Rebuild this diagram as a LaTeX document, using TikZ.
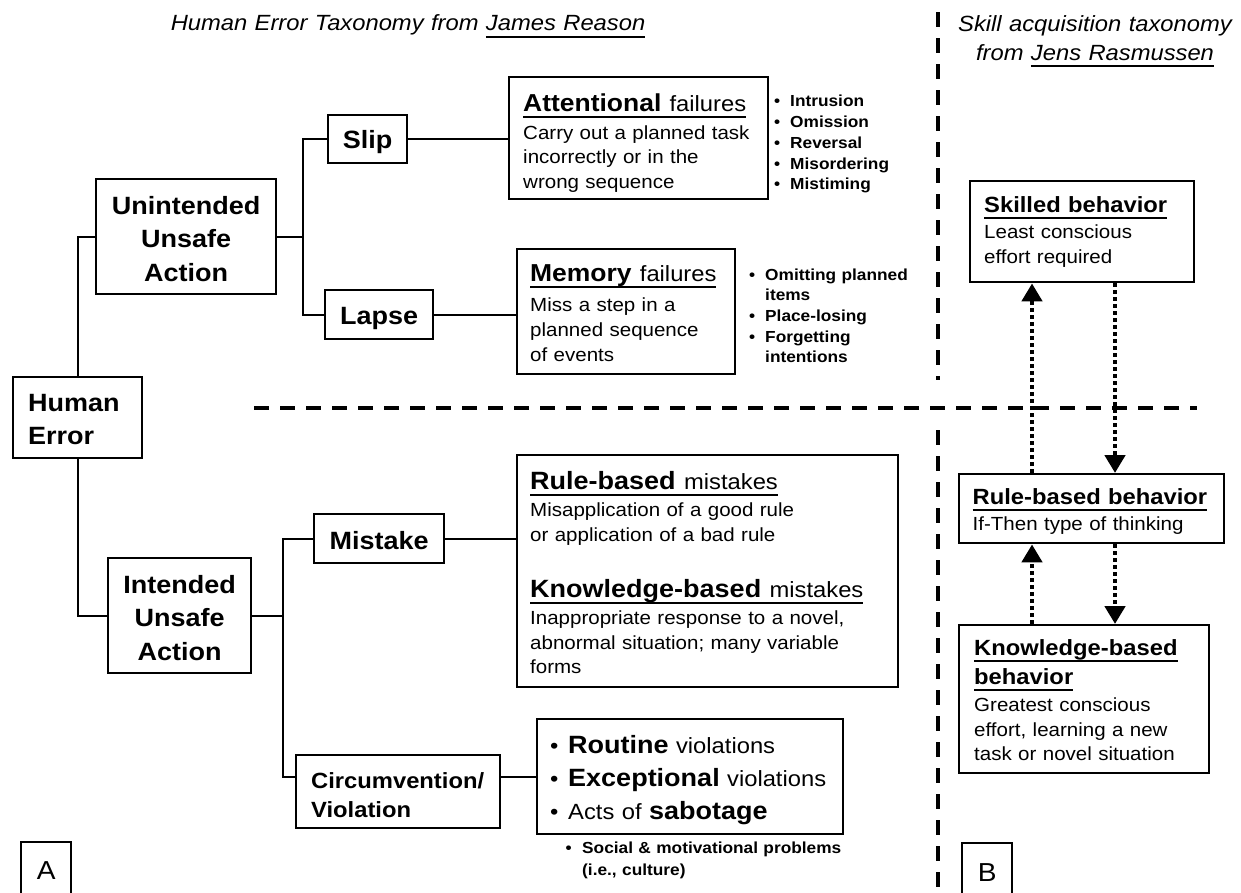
\documentclass[tikz,border=0pt]{standalone}
\usepackage{fontspec}
\setmainfont{Liberation Sans}[FakeStretch=1.08,WordSpace=1.12]
\usetikzlibrary{arrows.meta}
\hyphenpenalty=10000
\exhyphenpenalty=10000
\newcommand{\fsz}[2]{\fontsize{#1}{#2}\selectfont}
\newcommand{\myul}[2][2.3pt]{\leavevmode\setbox0=\hbox{#2}\rlap{\rule[-6.8pt]{\wd0}{#1}}\box0}
\newcommand{\bul}[1]{\makebox[#1][l]{\textbullet}}
\begin{document}
\begin{tikzpicture}[x=1pt,y=-1pt,
  box/.style={draw, line width=2.4pt, inner ysep=0pt, anchor=north west},
  conn/.style={line width=1.8pt},
  dashln/.style={line width=4.5pt, dash pattern=on 15pt off 11pt},
  dotarrow/.style={line width=4.5pt, dash pattern=on 4pt off 3pt, -{Triangle[width=20pt,length=18pt]}},
  lbl/.style={font={\fsz{25}{33.5}\bfseries}, align=flush center},
  free/.style={inner sep=0pt, anchor=base west, align=flush left}
]
\useasboundingbox (0,0) rectangle (1241,892);

% titles
\node[font={\fsz{22}{28}\itshape}, anchor=base, inner sep=0pt] (t1) at (408,30.7) {Human Error Taxonomy from \myul[1.8pt]{James Reason}};
\node[font={\fsz{22}{28.3}\itshape}, anchor=base, inner sep=0pt, text width=300pt, align=flush center] (t2) at (1095,31.7) {Skill acquisition taxonomy\\from \myul[1.8pt]{Jens Rasmussen}};

% dashed separators
\coordinate (vtop) at (938,12);
\coordinate (vmida) at (938,380);
\coordinate (vmidb) at (938,430);
\coordinate (vbot) at (938,905);
\coordinate (hl) at (254,408);
\coordinate (hr) at (1197,408);
\draw[dashln] (vtop) -- (vmida);
\draw[dashln] (vmidb) -- (vbot);
\draw[dashln] (hl) -- (hr);

% left tree
\node[box, lbl, align=flush left, font={\fsz{25}{33}\bfseries}, inner xsep=15pt, text width=99pt, text height=34pt, text depth=47pt] (he) at (12,376) {Human\\Error};
\node[box, lbl, inner xsep=10pt, text width=160pt, text height=35pt, text depth=80pt] (un) at (95,178) {Unintended\\Unsafe\\Action};
\node[box, lbl, inner xsep=5pt, text width=133pt, text height=35pt, text depth=80pt] (in) at (107,557) {Intended\\Unsafe\\Action};
\node[box, lbl, inner xsep=5pt, text width=69pt, text height=33pt, text depth=15pt] (slip) at (327,114) {Slip};
\node[box, lbl, inner xsep=5pt, text width=98pt, text height=34pt, text depth=15pt] (lapse) at (324,289) {Lapse};
\node[box, lbl, inner xsep=5pt, text width=120pt, text height=35pt, text depth=14pt] (mist) at (313,513) {Mistake};
\node[box, align=flush left, font={\fsz{22}{29}\bfseries}, inner xsep=15pt, text width=174pt, text height=33pt, text depth=40pt] (circ) at (295,754) {Circumvention/\\Violation};

% description boxes
\node[box, align=flush left, inner xsep=14pt, text width=231pt, text height=34pt, text depth=88pt] (att) at (508,76)
 {\fsz{24.5}{28}\myul{\textbf{Attentional} {\fsz{22}{28}failures}}\\
  \fsz{19}{28}Carry out a planned task\\
  \fsz{19}{24.5}incorrectly or in the\\
  wrong sequence\par};
\node[box, align=flush left, inner xsep=13pt, text width=192pt, text height=32pt, text depth=93pt] (mem) at (516,248)
 {\fsz{24.5}{30}\myul{\textbf{Memory} {\fsz{22}{30}failures}}\\
  \fsz{19}{30}Miss a step in a\\
  \fsz{19}{25}planned sequence\\
  of events\par};
\node[box, align=flush left, inner xsep=13pt, text width=355pt, text height=34pt, text depth=198pt] (rbm) at (516,454)
 {\fsz{25}{27.5}\myul{\textbf{Rule-based} {\fsz{22}{27.5}mistakes}}\\
  \fsz{19}{27.5}Misapplication of a good rule\\
  \fsz{19}{24.5}or application of a bad rule\\
  \fsz{25}{56}\myul{\textbf{Knowledge-based} {\fsz{22}{56}mistakes}}\\
  \fsz{19}{27.5}Inappropriate response to a novel,\\
  \fsz{19}{24.5}abnormal situation; many variable\\
  forms\par};
\node[box, align=flush left, inner xsep=13pt, text width=280pt, text height=34pt, text depth=81pt, font={\fsz{22}{33}}] (rout) at (536,718)
 {\bul{18pt}{\fsz{25}{33}\bfseries Routine} violations\\
  \bul{18pt}{\fsz{25}{33}\bfseries Exceptional} violations\\
  \bul{18pt}Acts of {\fsz{25}{33}\bfseries sabotage}\par};

% bullet lists
\node[free, text width=160pt, font={\fsz{16}{20.8}\bfseries}] (attl) at (774,106.7)
 {\bul{16pt}Intrusion\\\bul{16pt}Omission\\\bul{16pt}Reversal\\\bul{16pt}Misordering\\\bul{16pt}Mistiming};
\node[free, text width=180pt, font={\fsz{16}{20.7}\bfseries}] (meml) at (749,280)
 {\bul{16pt}Omitting planned\\\hspace*{16pt}items\\\bul{16pt}Place-losing\\\bul{16pt}Forgetting\\\hspace*{16pt}intentions};
\node[free, text width=300pt, font={\fsz{16}{22}\bfseries}] (soc) at (565.5,853)
 {\bul{16.5pt}Social \& motivational problems\\\hspace*{16.5pt}(i.e., culture)};

% right column
\node[box, align=flush left, inner xsep=14pt, text width=196pt, text height=31pt, text depth=70pt] (skl) at (969,180)
 {\fsz{22}{26}\myul{\textbf{Skilled behavior}}\\
  \fsz{19}{26}Least conscious\\
  \fsz{19}{25}effort required\par};
\node[box, align=flush left, inner xsep=13.5pt, text width=238pt, text height=30pt, text depth=39pt] (rbb) at (958,473)
 {\fsz{22}{26}\myul{\textbf{Rule-based behavior}}\\
  \fsz{19}{26}If-Then type of thinking\par};
\node[box, align=flush left, inner xsep=15pt, text width=220pt, text height=30pt, text depth=118pt] (kbb) at (958,624)
 {\fsz{22}{29.3}\myul{\textbf{Knowledge-based}}\\
  \myul{\textbf{behavior}}\\
  \fsz{19}{27}Greatest conscious\\
  \fsz{19}{24.5}effort, learning a new\\
  task or novel situation\par};

% panel labels
\node[box, inner xsep=0pt, text width=50pt, align=flush center, text height=37pt, text depth=40pt, font={\fsz{26}{30}}] (pa) at (20,841) {A};
\node[box, inner xsep=0pt, text width=50pt, align=flush center, text height=38pt, text depth=40pt, font={\fsz{26}{30}}] (pb) at (961,842) {B};

% tree connectors
\coordinate (ux) at (303,0);
\coordinate (ix) at (283,0);
\draw[conn] (he.north) |- (un.west);
\draw[conn] (he.south) |- (in.west);
\draw[conn] (un.east) -- (un.east -| ux);
\draw[conn] (slip.west) -- (slip.west -| ux) -- (lapse.west -| ux) -- (lapse.west);
\draw[conn] (slip.east) -- (slip.east -| att.west);
\draw[conn] (lapse.east) -- (lapse.east -| mem.west);
\draw[conn] (in.east) -- (in.east -| ix);
\draw[conn] (mist.west) -- (mist.west -| ix) -- (rout.west -| ix) -- (rout.west -| circ.west);
\draw[conn] (mist.east) -- (mist.east -| rbm.west);
\draw[conn] (rout.west -| circ.east) -- (rout.west);

% dotted arrows
\coordinate (axa) at (1032,0);
\coordinate (axb) at (1115,0);
\draw[dotarrow] (rbb.north -| axa) -- (skl.south -| axa);
\draw[dotarrow] (skl.south -| axb) -- (rbb.north -| axb);
\draw[dotarrow] (kbb.north -| axa) -- (rbb.south -| axa);
\draw[dotarrow] (rbb.south -| axb) -- (kbb.north -| axb);
\end{tikzpicture}
\end{document}
